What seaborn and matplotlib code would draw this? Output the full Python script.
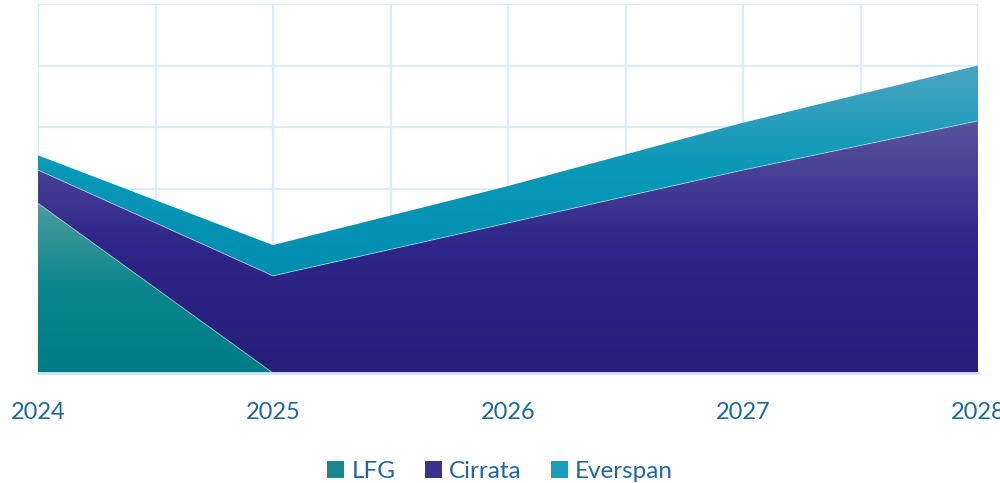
import numpy as np
import pandas as pd
import matplotlib
matplotlib.use("Agg")
import matplotlib.pyplot as plt
from matplotlib.colors import LinearSegmentedColormap
from matplotlib.patches import Patch
import seaborn as sns

years = ["2024", "2025", "2026", "2027", "2028"]
lfg = [27.6, 0.0, 0.0, 0.0, 0.0]
cirrata = [5.4, 15.8, 24.4, 33.0, 41.0]
everspan = [2.4, 5.0, 6.0, 7.7, 9.0]
series_names = ["LFG", "Cirrata", "Everspan"]

sns.set_theme(style="white")
plt.rcParams["font.family"] = ["Lato", "DejaVu Sans"]

text_color = "#1f66a3"
grid_color = "#d9edfd"

fig = plt.figure(figsize=(10, 4.83), dpi=100)
ax = fig.add_axes([0.038, 0.2277, 0.94, 0.764])

x = np.arange(len(years))
df = pd.DataFrame({"x": x, "LFG": lfg, "Cirrata": cirrata, "Everspan": everspan})
b0 = np.zeros(len(x))
t1 = b0 + df["LFG"].values
t2 = t1 + df["Cirrata"].values
t3 = t2 + df["Everspan"].values

grads = {
    "LFG": ["#4c9b9f", "#0a868c", "#007c84"],
    "Cirrata": ["#5a549e", "#2d2589", "#281d78"],
    "Everspan": ["#4aa5c1", "#0898b8", "#008eb0"],
}
legend_cols = {"LFG": "#1a878d", "Cirrata": "#3a3291", "Everspan": "#1a9cbd"}

layers = [("LFG", b0, t1), ("Cirrata", t1, t2), ("Everspan", t2, t3)]
for i, (name, lo, hi) in enumerate(layers):
    poly = ax.fill_between(x, lo, hi, color="none", linewidth=0, zorder=2 + i)
    cmap = LinearSegmentedColormap.from_list(name, [(0, grads[name][2]), (0.5, grads[name][1]), (1, grads[name][0])])
    ymin, ymax = lo.min(), hi.max()
    grad = np.linspace(0, 1, 256).reshape(-1, 1)
    im = ax.imshow(grad, cmap=cmap, aspect="auto", origin="lower",
                   extent=[x[0], x[-1], ymin, ymax], zorder=2 + i, interpolation="bicubic")
    path = poly.get_paths()[0]
    im.set_clip_path(path, transform=ax.transData)

edge_df = pd.DataFrame({"x": np.concatenate([x, x]), "y": np.concatenate([t1, t2]),
                        "g": ["a"] * len(x) + ["b"] * len(x)})
sns.lineplot(data=edge_df, x="x", y="y", units="g", estimator=None, color="white",
             alpha=0.45, linewidth=0.7, ax=ax, zorder=6, legend=False)

ax.set_xlim(x[0], x[-1])
ax.set_ylim(0, 60)
ax.set_xticks(x)
ax.set_xticklabels(years)
ax.set_xticks(np.arange(0, len(years) - 0.9, 0.5), minor=True)
ax.set_yticks(np.arange(0, 61, 10))
ax.set_yticklabels([])
ax.grid(True, which="both", axis="x", color=grid_color, linewidth=1.6, zorder=0)
ax.grid(True, which="major", axis="y", color=grid_color, linewidth=1.6, zorder=0)
ax.set_axisbelow(True)
ax.tick_params(axis="x", which="both", length=0, pad=21, labelsize=17, colors=text_color)
ax.tick_params(axis="y", length=0)
for lab in ax.get_xticklabels():
    lab.set_clip_on(False)
for s in ["top", "right", "left"]:
    ax.spines[s].set_visible(False)
ax.spines["bottom"].set_color("#cde5fb")
ax.spines["bottom"].set_linewidth(2)
ax.spines["bottom"].set_zorder(10)
ax.set_xlabel("")
ax.set_ylabel("")

handles = [Patch(facecolor=legend_cols[n], edgecolor="none", label=n) for n in series_names]
leg = fig.legend(handles=handles, loc="center", bbox_to_anchor=(0.5, 0.024), ncol=3, frameon=False,
                 fontsize=17.5, handlelength=0.7, handleheight=0.7, handletextpad=0.3, columnspacing=1.2)
for t in leg.get_texts():
    t.set_color(text_color)

fig.savefig("out.png", dpi=100)
